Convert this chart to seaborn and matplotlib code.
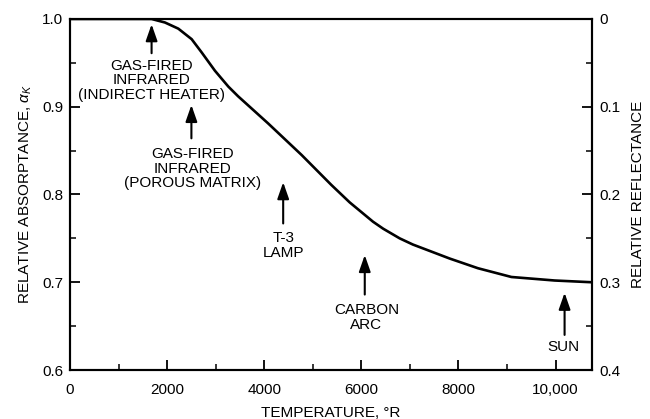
import matplotlib
matplotlib.use("Agg")
import matplotlib.pyplot as plt
import seaborn as sns
import pandas as pd
from matplotlib.ticker import MultipleLocator, FuncFormatter

# ---- data ----
temperature = [0, 1680, 1955, 2230, 2505, 2710, 2985, 3260, 3460, 4080,
               4770, 5380, 5760, 6240, 6450, 6790, 7060, 7820, 8400, 9090,
               9980, 10750]
absorptance = [1.0, 1.0, 0.996, 0.989, 0.977, 0.962, 0.941, 0.923, 0.912,
               0.881, 0.845, 0.811, 0.791, 0.769, 0.761, 0.750, 0.743,
               0.727, 0.716, 0.706, 0.702, 0.700]

source_names = ["GAS-FIRED\nINFRARED\n(INDIRECT HEATER)",
                "GAS-FIRED\nINFRARED\n(POROUS MATRIX)",
                "T-3\nLAMP",
                "CARBON\nARC",
                "SUN"]
source_temp = [1680, 2500, 4390, 6070, 10185]
arrow_tip = [0.994, 0.902, 0.814, 0.731, 0.688]
arrow_tail = [0.961, 0.864, 0.767, 0.686, 0.640]
label_x = [1680, 2520, 4390, 6105, 10171]
label_y = [0.930, 0.8296, 0.742, 0.660, 0.6266]

x_ticks = [0, 2000, 4000, 6000, 8000, 10000]
x_tick_labels = ["0", "2000", "4000", "6000", "8000", "10,000"]
y_ticks = [0.6, 0.7, 0.8, 0.9, 1.0]
refl_ticks = [0.0, 0.1, 0.2, 0.3, 0.4]
refl_tick_labels = ["0", "0.1", "0.2", "0.3", "0.4"]

df = pd.DataFrame({"T": temperature, "a": absorptance})

sns.set_style("ticks")
plt.rcParams["font.family"] = ["Liberation Sans", "DejaVu Sans"]
plt.rcParams["mathtext.fontset"] = "custom"
plt.rcParams["mathtext.it"] = "Liberation Sans:italic"
plt.rcParams["mathtext.rm"] = "Liberation Sans"
plt.rcParams["text.color"] = "black"
plt.rcParams["axes.labelcolor"] = "black"

fig = plt.figure(figsize=(6.5, 4.19), dpi=100)
ax = fig.add_axes([0.1077, 0.1169, 0.8031, 0.8378])

sns.lineplot(data=df, x="T", y="a", ax=ax, color="black", linewidth=1.9)

ax.set_xlim(0, 10750)
ax.set_ylim(0.6, 1.0)
ax.set_xticks(x_ticks)
ax.set_xticklabels(x_tick_labels)
ax.xaxis.set_minor_locator(MultipleLocator(1000))
ax.set_yticks(y_ticks)
ax.yaxis.set_major_formatter(FuncFormatter(lambda v, p: f"{v:.1f}"))
ax.yaxis.set_minor_locator(MultipleLocator(0.05))

fs = 11
ax.tick_params(which="major", direction="in", length=7, width=1.3,
               labelsize=fs, colors="black", pad=5)
ax.tick_params(axis="x", which="major", pad=9)
ax.tick_params(which="minor", direction="in", length=4, width=1.3)
ax.tick_params(axis="x", top=False, which="both")
for s in ax.spines.values():
    s.set_linewidth(1.5)
    s.set_color("black")

ax.set_xlabel("TEMPERATURE, °R", fontsize=fs, labelpad=7)
ax.set_ylabel(r"RELATIVE ABSORPTANCE, $\alpha_K$", fontsize=fs, labelpad=6)

ax2 = ax.twinx()
ax2.set_ylim(0.4, 0.0)
ax2.set_yticks(refl_ticks)
ax2.set_yticklabels(refl_tick_labels)
ax2.yaxis.set_minor_locator(MultipleLocator(0.05))
ax2.tick_params(which="major", direction="in", length=7, width=1.3,
                labelsize=fs, colors="black", pad=5)
ax2.tick_params(which="minor", direction="in", length=4, width=1.3)
for s in ax2.spines.values():
    s.set_linewidth(1.5)
    s.set_color("black")
ax2.set_ylabel("RELATIVE REFLECTANCE", fontsize=fs, labelpad=8)

for name, xt, tip, tail, lx, ly in zip(source_names, source_temp, arrow_tip,
                                       arrow_tail, label_x, label_y):
    ax.annotate("", xy=(xt, tip), xytext=(xt, tail),
                arrowprops=dict(arrowstyle="-|>,head_length=1.0,head_width=0.35",
                                lw=1.5, color="black", shrinkA=0, shrinkB=0,
                                mutation_scale=10))
    ax.text(lx, ly, name, ha="center", va="center", fontsize=fs,
            linespacing=1.05, color="black")

fig.savefig("out.png", dpi=100)
